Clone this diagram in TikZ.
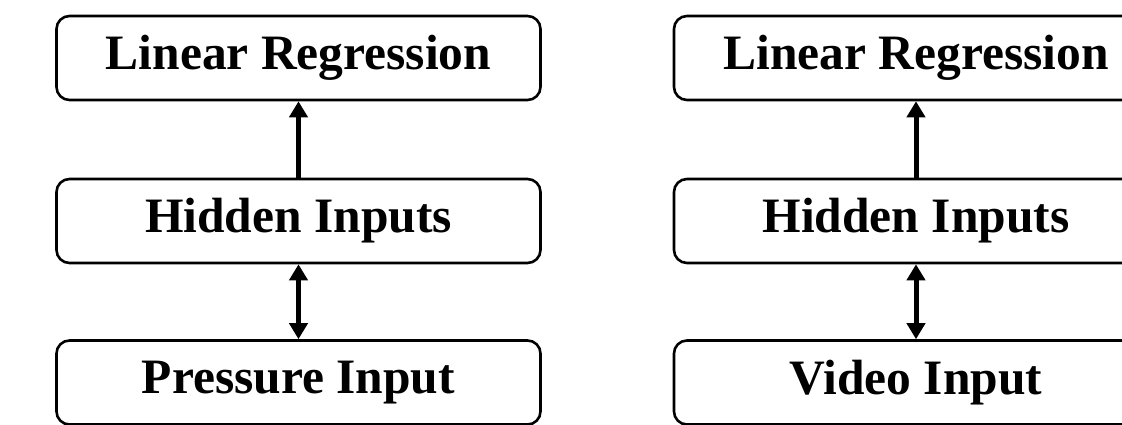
\documentclass[tikz,border=0pt]{standalone}
\usepackage{fontspec}
\setmainfont{Liberation Serif}
\usetikzlibrary{arrows.meta}
\begin{document}
\begin{tikzpicture}[x=1pt,y=-1pt,
  layerbox/.style={draw=black, line width=2.6pt, rounded corners=13pt,
    minimum width=484pt, minimum height=84pt, inner sep=0pt,
    font=\fontsize{49.5}{55}\selectfont\bfseries},
  uparrow/.style={line width=5pt, -{Triangle[length=16pt,width=18pt]}},
  bothways/.style={line width=5pt, {Triangle[length=16pt,width=18pt]}-{Triangle[length=16pt,width=18pt]}}]
  \useasboundingbox (0,0) rectangle (1122,425);

  % pressure branch
  \node[layerbox] (lrA) at (298.5,58) {Linear Regression};
  \node[layerbox] (hiA) at (298.5,221) {Hidden Inputs};
  \node[layerbox] (inA) at (298.5,382.5) {Pressure Input};
  \draw[uparrow] (hiA.north) -- (lrA.south);
  \draw[bothways] (inA.north) -- (hiA.south);

  % video branch
  \node[layerbox] (lrB) at (916,58) {Linear Regression};
  \node[layerbox] (hiB) at (916,221) {Hidden Inputs};
  \node[layerbox] (inB) at (916,382.5) {Video Input};
  \draw[uparrow] (hiB.north) -- (lrB.south);
  \draw[bothways] (inB.north) -- (hiB.south);
\end{tikzpicture}
\end{document}
